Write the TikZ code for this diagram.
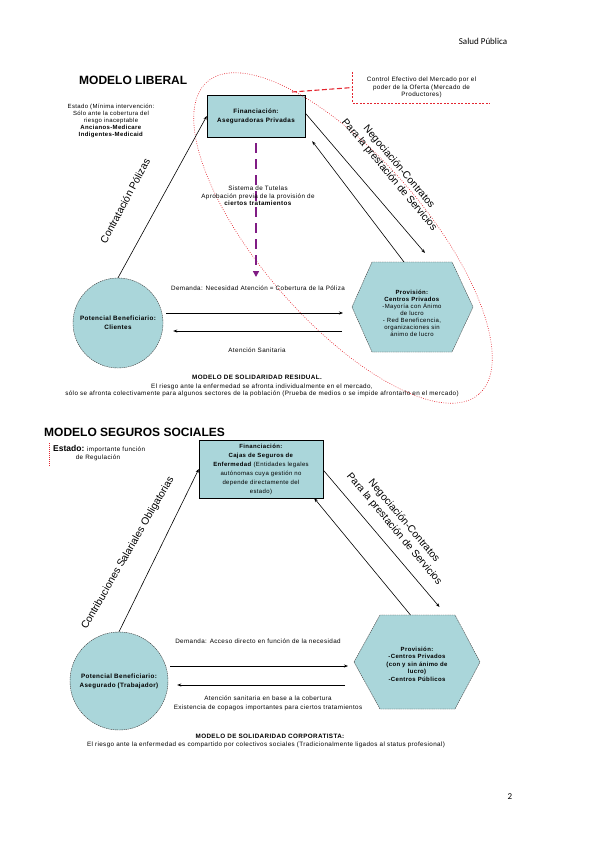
\documentclass[tikz,border=0pt]{standalone}
\usepackage{fontspec}
\setmainfont{Liberation Sans}
\newfontfamily\cabecera{Carlito}
\newfontfamily\letra[LetterSpace=6]{Liberation Sans}
\usetikzlibrary{arrows.meta}
\definecolor{celeste}{RGB}{170,214,218}
\definecolor{rojo}{RGB}{228,38,48}
\definecolor{morado}{RGB}{128,28,132}
\newcommand{\chica}{\letra\fontsize{6.3}{7.5}\selectfont}

\begin{document}
\begin{tikzpicture}[x=1pt,y=-1pt]
  \useasboundingbox (0,0) rectangle (599,848);

  \tikzstyle{texto}=[align=center, inner sep=0pt, font=\chica]
  \tikzstyle{titulo}=[anchor=west, inner sep=0pt, font=\bfseries\fontsize{12}{13}\selectfont]
  \tikzstyle{financ}=[draw, fill=celeste, align=center, inner sep=0pt, font=\letra\bfseries\fontsize{6.3}{9}\selectfont]
  \tikzstyle{benef}=[circle, draw=black!75, dash pattern=on 1.5pt off 0.7pt, fill=celeste, inner sep=0pt, align=center, font=\letra\bfseries\fontsize{6.3}{9}\selectfont]
  \tikzstyle{hexa}=[draw=black!75, dash pattern=on 1.5pt off 0.7pt, fill=celeste]
  \tikzstyle{rotado}=[align=center, inner sep=0pt, font=\fontsize{10.3}{12.5}\selectfont]
  \tikzstyle{flecha}=[-{Stealth[length=4pt,width=3pt]}, line width=0.6pt]
  \tikzstyle{gruesa}=[-{Stealth[length=4pt,width=3pt]}, line width=1pt]

  % Cabecera
  \node[inner sep=0pt, font=\cabecera\fontsize{9}{10}\selectfont] (cab) at (483,41) {Salud Pública};
  \node[inner sep=0pt, font=\cabecera\fontsize{9}{10}\selectfont] (pag) at (510,797) {2};

  % ---------------- Modelo liberal ----------------
  \node[titulo] (tit1) at (79,80) {MODELO LIBERAL};
  \node[texto, font=\letra\fontsize{6}{7}\selectfont] (est1) at (111,121) {Estado (Mínima intervención:\\Sólo ante la cobertura del\\riesgo inaceptable\\\textbf{Ancianos-Medicare}\\\textbf{Indigentes-Medicaid}};

  \node[financ, minimum width=98, minimum height=42] (fin1) at (256,116) {Financiación:\\Aseguradoras Privadas};
  \node[benef, minimum size=90] (ben1) at (118,323) {Potencial Beneficiario:\\Clientes};
  \filldraw[hexa] (412,307) ++(-60,0) -- ++(20,-45) -- ++(80,0) -- ++(21,45) -- ++(-21,45) -- ++(-80,0) -- cycle;
  \coordinate (h1w) at (352,307);
  \coordinate (h1n) at (412,262);
  \node[texto, font=\letra\fontsize{6}{7}\selectfont] (prov1) at (412,313) {\textbf{Provisión:}\\\textbf{Centros Privados}\\-Mayoría con Ánimo\\de lucro\\- Red Beneficencia,\\organizaciones sin\\ánimo de lucro};

  % Elipse del mercado
  \draw[rojo, line width=0.6pt, dash pattern=on 0.8pt off 1.5pt, rotate around={-49:(343,238)}] (343,238) ellipse [x radius=207, y radius=82];
  \node[texto] (ctrl) at (421.5,87.5) [minimum width=137, minimum height=31] {Control Efectivo del Mercado por el\\poder de la Oferta (Mercado de\\Productores)};
  \draw[rojo, line width=0.8pt, dash pattern=on 2pt off 1.5pt] (ctrl.north west) -- (ctrl.south west) -- (ctrl.south east);
  \coordinate (elip) at (292,92);
  \draw[rojo, line width=1.1pt, dash pattern=on 5pt off 2.5pt] (elip) -- (ctrl.west);

  % Flechas
  \draw[flecha] (ben1.north) -- (fin1.west);
  \node[rotado, rotate=62] (lcont) at (125,201) {Contratación Pólizas};
  \draw[flecha] ([yshift=3pt]fin1.east) -- ([xshift=13pt,yshift=9pt]h1n);
  \draw[flecha] ([xshift=-8pt]h1n) -- ([xshift=7pt,yshift=-4pt]fin1.south east);
  \node[rotado, rotate=-50] (lneg1) at (394,171) {Negociación-Contratos\\Para la prestación de Servicios};

  \coordinate (tut) at (256,277);
  \draw[morado, line width=2.4pt, dash pattern=on 10pt off 6pt, -{Triangle[length=6pt,width=6pt]}] ([yshift=-6pt]fin1.south) -- (tut);
  \node[texto] (tutela) at (258,196) {Sistema de Tutelas\\Aprobación previa de la provisión de\\\textbf{ciertos tratamientos}};

  \draw[flecha] ([xshift=3pt,yshift=10pt]ben1.east) -- ([xshift=-9pt,yshift=-6pt]h1w);
  \draw[gruesa] ([xshift=-10pt,yshift=-24pt]h1w) -- ([xshift=10pt,yshift=-8pt]ben1.east);
  \node[texto] (dem1) at (258,288) {Demanda: Necesidad Atención = Cobertura de la Póliza};
  \node[texto] (aten1) at (257,350) {Atención Sanitaria};

  \node[texto, font=\bfseries\chica] (sol1) at (257,377) {MODELO DE SOLIDARIDAD RESIDUAL.};
  \node[texto] (sol1b) at (262,390.5) {El riesgo ante la enfermedad se afronta individualmente en el mercado,\\sólo se afronta colectivamente para algunos sectores de la población (Prueba de medios o se impide afrontarlo en el mercado)};

  % ---------------- Modelo seguros sociales ----------------
  \node[titulo] (tit2) at (44,432) {MODELO SEGUROS SOCIALES};
  \node[anchor=west, inner sep=0pt] (est2) at (53,449) {\bfseries\fontsize{8.5}{9}\selectfont Estado:\mdseries\chica{} importante función};
  \node[texto] (est2b) at (98,458) {de Regulación};
  \draw[rojo, line width=0.8pt, dash pattern=on 0.8pt off 1.2pt] (49,443) -- (49,466);

  \node[financ, minimum width=124, minimum height=58, font=\letra\fontsize{6}{9}\selectfont] (fin2) at (261,469) {\textbf{Financiación:}\\\textbf{Cajas de Seguros de}\\\textbf{Enfermedad} (Entidades legales\\autónomas cuya gestión no\\depende directamente del\\estado)};
  \node[benef, minimum size=98] (ben2) at (119,681) {Potencial Beneficiario:\\Asegurado (Trabajador)};
  \filldraw[hexa] (417.5,662) ++(-63.5,0) -- ++(26,-47) -- ++(75,0) -- ++(25,47) -- ++(-25,47) -- ++(-75,0) -- cycle;
  \coordinate (h2w) at (354,662);
  \coordinate (h2n) at (417.5,615);
  \node[texto, font=\letra\bfseries\fontsize{6}{7.5}\selectfont] (prov2) at (417,664) {Provisión:\\-Centros Privados\\(con y sin ánimo de\\lucro)\\-Centros Públicos};

  % Flechas
  \draw[flecha] (ben2.north) -- (fin2.west);
  \node[rotado, rotate=60] (lcontr) at (128,553) {Contribuciones Salariales Obligatorias};
  \draw[flecha] ([yshift=-1pt]fin2.east) -- ([xshift=22pt,yshift=8pt]h2n);
  \draw[flecha] ([xshift=-7pt]h2n) -- ([xshift=-9pt]fin2.south east);
  \node[rotado, rotate=-50] (lneg2) at (399,525) {Negociación-Contratos\\Para la prestación de Servicios};

  \draw[flecha] ([xshift=2pt,yshift=15pt]ben2.east) -- ([xshift=-6pt,yshift=-4pt]h2w);
  \draw[gruesa] ([xshift=-9pt,yshift=-23pt]h2w) -- ([xshift=9pt,yshift=-4pt]ben2.east);
  \node[texto] (dem2) at (258,641) {Demanda: Acceso directo en función de la necesidad};
  \node[texto, font=\letra\fontsize{6.3}{9}\selectfont] (aten2) at (268,703) {Atención sanitaria en base a la cobertura\\Existencia de copagos importantes para ciertos tratamientos};

  \node[texto, font=\bfseries\chica] (sol2) at (270,736) {MODELO DE SOLIDARIDAD CORPORATISTA:};
  \node[texto] (sol2b) at (266,745) {El riesgo ante la enfermedad es compartido por colectivos sociales (Tradicionalmente ligados al status profesional)};
\end{tikzpicture}
\end{document}
